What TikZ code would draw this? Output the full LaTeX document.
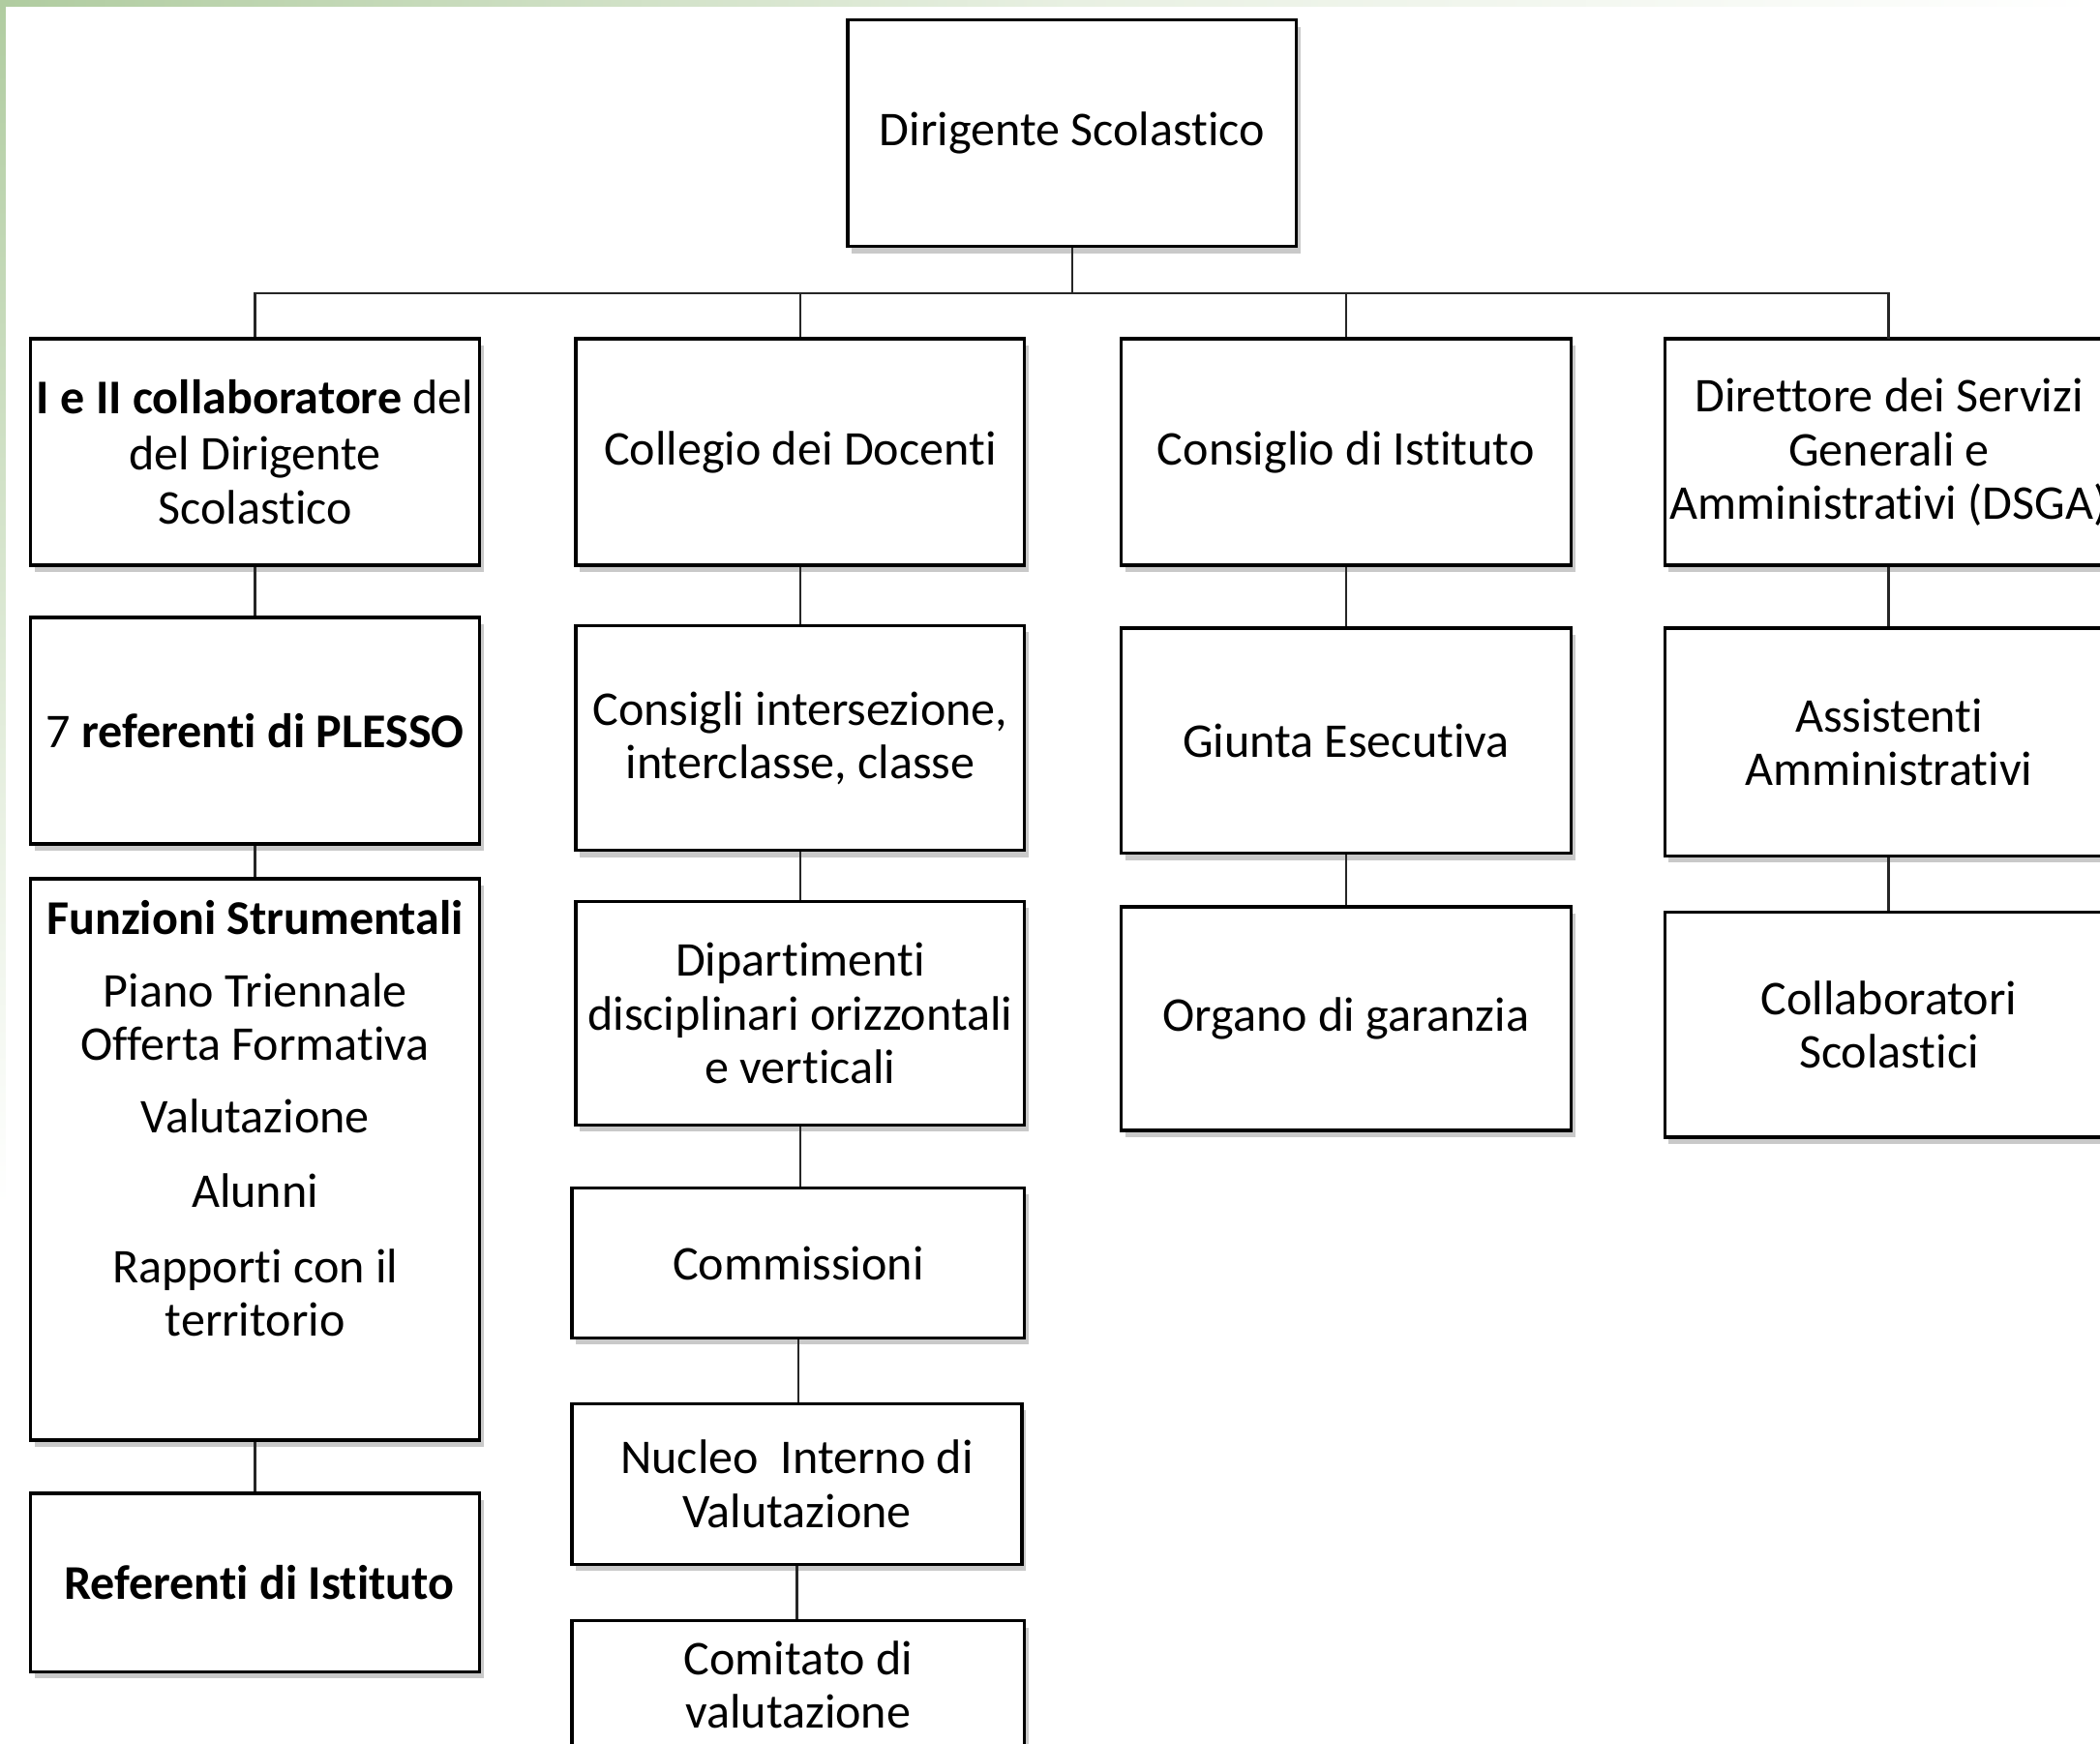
\documentclass[tikz,border=0pt]{standalone}
\usepackage{fontspec}
\setmainfont{Carlito}[RawFeature={-liga}]
\usetikzlibrary{shadows}
\definecolor{leaf}{RGB}{176,204,160}
\definecolor{paleleaf}{RGB}{232,240,226}
\tikzset{
  box/.style={draw=black, line width=2.4pt, fill=white, rectangle, inner sep=0pt,
    align=center, font=\fontsize{36.2}{40}\selectfont,
    drop shadow={shadow xshift=3pt, shadow yshift=-5pt, opacity=0.35, fill=black!60}},
  link/.style={draw=black!85, line width=1.8pt}
}
\newcommand{\bx}[6]{% name, x1, y1, x2, y2, text
  \node[box, minimum width={#4-#2}, minimum height={#5-#3}] (#1) at ({(#2+#4)/2},{(#3+#5)/2}) {#6};}
\begin{document}
\begin{tikzpicture}[x=1pt, y=-1pt]
\useasboundingbox (0,0) rectangle (1568,1302);
\clip (0,0) rectangle (1568,1302);
\fill[white] (0,0) rectangle (1568,1302);
% background image edge
\shade[left color=leaf, right color=paleleaf] (0,0) rectangle (800,5);
\shade[left color=paleleaf, right color=white] (800,0) rectangle (1568,5);
\shade[top color=leaf, bottom color=paleleaf] (0,0) rectangle (4,600);
\shade[top color=paleleaf, bottom color=white] (0,600) rectangle (4,900);

% top
\bx{top}{633}{15}{968}{184}{Dirigente Scolastico}
% row 1
\bx{a1}{23}{253}{358}{422}{\raisebox{2pt}{\textbf{I e II collaboratore} del}\\del Dirigente\\Scolastico}
\bx{b1}{430}{253}{765}{422}{Collegio dei Docenti}
\bx{c1}{837}{253}{1173}{422}{Consiglio di Istituto}
\bx{d1}{1243}{253}{1578}{422}{Direttore dei Servizi\\Generali e\\Amministrativi (DSGA)}
% column a
\bx{a2}{23}{461}{358}{630}{7 \textbf{referenti di PLESSO}}
\node[box, minimum width=335, minimum height=419, anchor=north, inner sep=0pt] (a3) at (190.5,655)
  {\parbox[c][419pt][t]{330pt}{\centering\vspace{16pt}%
   \textbf{Funzioni Strumentali}\\[14pt]
   Piano Triennale\\Offerta Formativa\\[14pt]
   Valutazione\\[16pt]
   Alunni\\[16pt]
   Rapporti con il\\territorio}};
\bx{a4}{23}{1115}{358}{1248}{\hspace{6pt}\textbf{Referenti di Istituto}}
% column b
\bx{b2}{430}{467}{765}{635}{Consigli intersezione,\\interclasse, classe}
\bx{b3}{430}{673}{765}{840}{Dipartimenti\\disciplinari orizzontali\\e verticali}
\bx{b4}{427}{887}{765}{999}{Commissioni}
\bx{b5}{427}{1048}{763}{1168}{Nucleo\ \ Interno di\\Valutazione}
\bx{b6}{427}{1210}{765}{1306}{Comitato di\\valutazione}
% column c
\bx{c2}{837}{469}{1173}{637}{Giunta Esecutiva}
\bx{c3}{837}{677}{1173}{844}{Organo di garanzia}
% column d
\bx{d2}{1243}{469}{1578}{639}{Assistenti\\Amministrativi}
\bx{d3}{1243}{681}{1578}{849}{Collaboratori\\Scolastici}

% connectors
\coordinate (bus) at (800.5,219);
\draw[link] (top.south) -- (bus);
\draw[link] (a1.north) -- (a1.north |- bus) -- (1410,219) -- (1410,253);
\draw[link] (b1.north) -- (b1.north |- bus);
\draw[link] (c1.north) -- (c1.north |- bus);
\draw[link] (a1.south) -- (a1.south |- a2.north);
\draw[link] (a2.south) -- (a2.south |- a3.north);
\draw[link] (a3.south) -- (a3.south |- a4.north);
\draw[link] (b1.south) -- (b1.south |- b2.north);
\draw[link] (b2.south) -- (b2.south |- b3.north);
\draw[link] (b3.south) -- (b3.south |- b4.north);
\draw[link] (b4.south) -- (b4.south |- b5.north);
\draw[link] (b5.south) -- (b5.south |- b6.north);
\draw[link] (c1.south) -- (c1.south |- c2.north);
\draw[link] (c2.south) -- (c2.south |- c3.north);
\coordinate (dx) at (1410,0);
\draw[link] (dx |- d1.south) -- (dx |- d2.north);
\draw[link] (dx |- d2.south) -- (dx |- d3.north);
\end{tikzpicture}
\end{document}
